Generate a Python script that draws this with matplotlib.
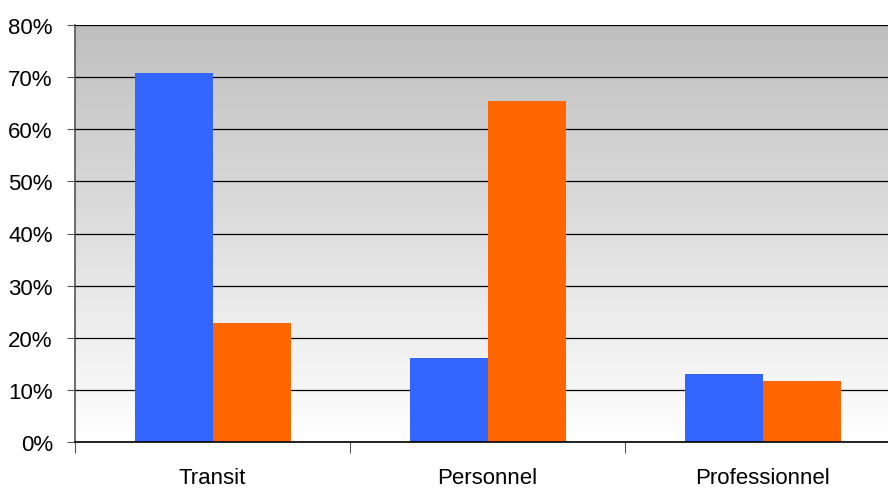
import numpy as np
import matplotlib.pyplot as plt
from matplotlib.colors import LinearSegmentedColormap

# Data
categories = ['Transit', 'Personnel', 'Professionnel']
serie_bleue = [70.8, 16.1, 13.0]
serie_orange = [22.9, 65.4, 11.7]
yticks = [0, 10, 20, 30, 40, 50, 60, 70, 80]

plt.rcParams['font.family'] = ['Liberation Sans', 'DejaVu Sans']

fig = plt.figure(figsize=(8.88, 4.89), dpi=100)
ax = fig.add_axes([75 / 888, (489 - 443) / 489, 825 / 888, 417 / 489])

# gradient background (grey top -> white bottom)
cmap = LinearSegmentedColormap.from_list('bg', ['#ffffff', '#bfbfbf'])
grad = np.linspace(0, 1, 256).reshape(-1, 1)
ax.imshow(grad, cmap=cmap, aspect='auto', origin='lower',
          extent=[0, 3, 0, 80], zorder=0)

x = np.arange(len(categories)) + 0.5
w = 78 / 275
ax.bar(x - w / 2, serie_bleue, width=w, color='#3366ff', zorder=3)
ax.bar(x + w / 2, serie_orange, width=w, color='#ff6600', zorder=3)

ax.set_xlim(0, 3)
ax.set_ylim(0, 80)
ax.set_yticks(yticks)
ax.set_yticklabels([f'{v}%' for v in yticks], fontsize=16)
ax.yaxis.grid(True, color='#000000', linewidth=0.9, zorder=1)
ax.set_axisbelow(False)

ax.set_xticks([0, 1, 2, 3])
ax.set_xticklabels([])
ax.set_xticks(x, minor=True)
ax.set_xticklabels(categories, minor=True, fontsize=16)
ax.tick_params(axis='x', which='major', direction='out', length=8, color='#555555')
ax.tick_params(axis='x', which='minor', length=0, pad=18)
ax.tick_params(axis='y', direction='out', length=6, color='#555555', pad=10)

for s in ['top', 'right']:
    ax.spines[s].set_visible(False)
ax.spines['left'].set_color('#555555')
ax.spines['left'].set_linewidth(1.2)
ax.spines['bottom'].set_color('#000000')
ax.spines['bottom'].set_linewidth(1.2)
ax.spines['bottom'].set_zorder(4)

fig.savefig('out.png', dpi=100)
